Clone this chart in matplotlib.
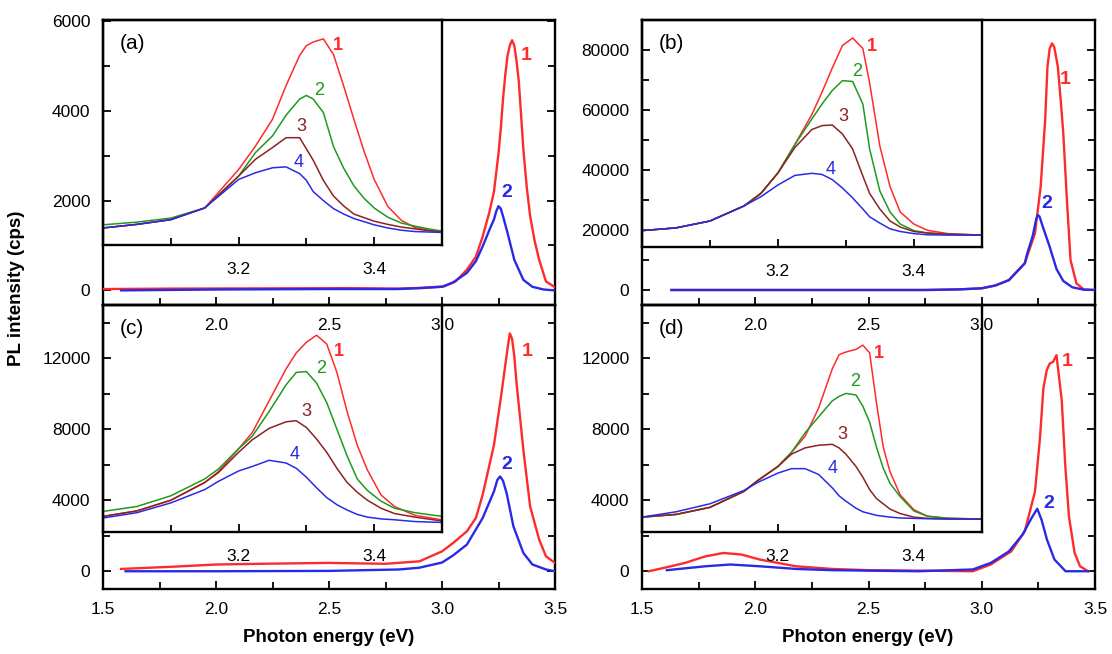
import matplotlib
matplotlib.use("Agg")
import matplotlib.pyplot as plt
from matplotlib.ticker import MultipleLocator, FixedLocator

plt.rcParams['font.family'] = ['Liberation Sans', 'DejaVu Sans']

RED = '#ff2b2b'
GREEN = '#1e9a1e'
BROWN = '#8c2323'
BLUE = '#2a2ae6'

# ---- main spectra (photon energy in eV, PL intensity in cps) ----
a_red_x = [1.50, 1.80, 2.20, 2.60, 2.81, 2.90, 3.01, 3.06, 3.11, 3.15, 3.18, 3.21, 3.23,
           3.25, 3.26, 3.27, 3.28, 3.29, 3.30, 3.31, 3.32, 3.33, 3.34, 3.35, 3.36, 3.375,
           3.39, 3.41, 3.43, 3.46, 3.50]
a_red_y = [30, 40, 45, 50, 40, 55, 90, 200, 460, 750, 1200, 1750, 2200,
           3050, 3600, 4260, 4800, 5230, 5450, 5570, 5450, 5100, 4640, 3900, 3140, 2300,
           1650, 1100, 680, 200, 70]
a_blue_x = [1.58, 2.00, 2.50, 2.80, 2.90, 3.00, 3.05, 3.11, 3.15, 3.18, 3.21, 3.23, 3.24,
            3.25, 3.26, 3.27, 3.29, 3.32, 3.36, 3.40, 3.45, 3.50]
a_blue_y = [0, 20, 30, 30, 50, 80, 180, 390, 650, 980, 1350, 1580, 1760,
            1875, 1820, 1650, 1280, 680, 235, 80, 20, 0]

b_red_x = [1.63, 2.00, 2.50, 2.75, 2.90, 3.00, 3.06, 3.12, 3.19, 3.235, 3.26, 3.28, 3.29,
           3.30, 3.31, 3.32, 3.336, 3.35, 3.36, 3.376, 3.392, 3.418, 3.45, 3.50]
b_red_y = [0, 0, 0, 0, 200, 570, 1500, 3300, 8900, 18900, 34400, 56700, 74400,
           80500, 82200, 81000, 74400, 62000, 52200, 30000, 10000, 2200, 200, 0]
b_blue_x = [1.63, 2.00, 2.50, 2.75, 2.90, 3.00, 3.06, 3.12, 3.19, 3.20, 3.225, 3.24, 3.247,
            3.255, 3.27, 3.30, 3.33, 3.36, 3.40, 3.45, 3.50]
b_blue_y = [0, 0, 0, 0, 200, 570, 1500, 3300, 8900, 12000, 18000, 23500, 25000,
            24500, 21000, 14400, 7000, 3000, 900, 100, 0]

c_red_x = [1.58, 1.80, 2.00, 2.25, 2.50, 2.75, 2.90, 3.00, 3.05, 3.11, 3.15, 3.18, 3.23,
           3.26, 3.29, 3.30, 3.31, 3.32, 3.33, 3.36, 3.39, 3.43, 3.46, 3.50]
c_red_y = [130, 250, 380, 430, 470, 420, 560, 1120, 1600, 2250, 3000, 4310, 7120,
           9740, 12550, 13400, 13100, 12100, 10580, 6840, 3650, 1780, 840, 470]
c_blue_x = [1.60, 2.00, 2.50, 2.81, 2.90, 3.00, 3.05, 3.11, 3.18, 3.23, 3.245, 3.257,
            3.27, 3.286, 3.316, 3.36, 3.40, 3.46, 3.50]
c_blue_y = [0, 0, 20, 100, 200, 490, 900, 1500, 3000, 4500, 5150, 5340,
            5100, 4400, 2530, 1030, 380, 100, 0]

d_red_x = [1.53, 1.60, 1.69, 1.78, 1.86, 1.94, 2.02, 2.18, 2.34, 2.50, 2.75, 2.96, 3.04,
           3.13, 3.19, 3.235, 3.257, 3.272, 3.287, 3.30, 3.315, 3.33, 3.353, 3.369,
           3.385, 3.41, 3.434, 3.47]
d_red_y = [0, 200, 470, 840, 1030, 940, 660, 280, 130, 60, 30, 0, 380,
           1120, 2250, 4490, 7490, 10300, 11330, 11700, 11800, 12170, 9650, 5900,
           3090, 1030, 280, 0]
d_blue_x = [1.61, 1.78, 1.89, 2.02, 2.18, 2.34, 2.72, 2.96, 3.04, 3.12, 3.18, 3.22,
            3.245, 3.264, 3.288, 3.321, 3.37, 3.47]
d_blue_y = [60, 280, 380, 280, 130, 60, 0, 100, 470, 1120, 2060, 3000,
            3520, 2900, 1780, 660, 0, 0]

# ---- inset spectra (values read against the main intensity scale) ----
a_in_x = [3.00, 3.05, 3.10, 3.15, 3.20, 3.225, 3.25, 3.27, 3.29, 3.30, 3.31, 3.325,
          3.34, 3.355, 3.37, 3.385, 3.40, 3.42, 3.44, 3.46, 3.48, 3.50]
a_in_1 = [1390, 1470, 1575, 1835, 2690, 3215, 3810, 4560, 5230, 5450, 5530, 5600,
          5250, 4550, 3810, 3100, 2470, 1870, 1560, 1400, 1340, 1300]
a_in_2 = [1460, 1520, 1610, 1835, 2545, 3070, 3440, 3900, 4260, 4340, 4260, 3960,
          3200, 2720, 2330, 2050, 1835, 1630, 1500, 1430, 1370, 1320]
a_in_3 = [1390, 1470, 1575, 1835, 2545, 2920, 3180, 3400, 3400, 3150, 2900, 2450,
          2100, 1880, 1700, 1620, 1540, 1470, 1410, 1370, 1330, 1300]
a_in_4 = [1390, 1470, 1575, 1835, 2470, 2620, 2730, 2750, 2600, 2450, 2200, 2000,
          1820, 1700, 1600, 1530, 1460, 1390, 1340, 1310, 1300, 1290]

b_in_x = [3.00, 3.05, 3.10, 3.15, 3.175, 3.20, 3.225, 3.25, 3.265, 3.28, 3.295, 3.31,
          3.325, 3.335, 3.35, 3.365, 3.38, 3.40, 3.42, 3.45, 3.50]
b_in_1 = [19800, 20700, 23000, 28000, 32200, 39000, 48500, 58500, 66000, 74000, 81500, 84000,
          80500, 69000, 48000, 34500, 26000, 22000, 19900, 18800, 18300]
b_in_2 = [19800, 20700, 23000, 28000, 32200, 39000, 48500, 57000, 62000, 66500, 69800, 69500,
          62000, 47000, 33000, 26000, 22000, 19800, 19000, 18600, 18300]
b_in_3 = [19800, 20700, 23000, 28000, 32200, 39000, 47500, 53500, 54800, 55000, 52000, 47000,
          38000, 32200, 27000, 23000, 21000, 19500, 19000, 18600, 18300]
b_in_4 = [19800, 20700, 23000, 28000, 31100, 35000, 38200, 38900, 38500, 36800, 34000, 30700,
          27000, 24400, 22300, 20400, 19500, 18800, 18400, 18300, 18300]

c_in_x = [3.00, 3.05, 3.10, 3.15, 3.17, 3.20, 3.22, 3.245, 3.27, 3.285, 3.30, 3.315,
          3.33, 3.345, 3.36, 3.375, 3.39, 3.41, 3.43, 3.46, 3.50]
c_in_1 = [3090, 3400, 4000, 5000, 5600, 6900, 7800, 9600, 11400, 12300, 12900, 13300,
          12800, 11200, 9000, 7100, 5700, 4300, 3650, 3150, 2900]
c_in_2 = [3370, 3650, 4250, 5200, 5750, 6900, 7600, 9000, 10500, 11200, 11250, 10600,
          9500, 8000, 6500, 5200, 4550, 3950, 3550, 3300, 3090]
c_in_3 = [3090, 3400, 4000, 5000, 5550, 6700, 7400, 8050, 8420, 8480, 8100, 7450,
          6700, 5800, 5000, 4450, 4000, 3550, 3250, 3050, 2830]
c_in_4 = [3000, 3300, 3850, 4600, 5060, 5650, 5900, 6250, 6100, 5800, 5300, 4700,
          4150, 3750, 3450, 3200, 3050, 2950, 2900, 2800, 2750]

d_in_x = [3.00, 3.05, 3.10, 3.15, 3.17, 3.20, 3.22, 3.24, 3.26, 3.28, 3.29, 3.30,
          3.315, 3.325, 3.335, 3.345, 3.355, 3.365, 3.38, 3.40, 3.42, 3.45, 3.50]
d_in_1 = [3050, 3200, 3600, 4500, 5100, 5900, 6700, 7600, 9200, 11400, 12200, 12350,
          12500, 12740, 12300, 9500, 7000, 5600, 4300, 3470, 3100, 2980, 2940]
d_in_2 = [3050, 3200, 3600, 4500, 5100, 5900, 6700, 7800, 8700, 9600, 9850, 10020,
          9930, 9300, 8400, 7000, 5800, 4950, 4200, 3400, 3100, 2990, 2940]
d_in_3 = [3050, 3200, 3600, 4500, 5100, 5900, 6600, 6950, 7100, 7150, 6950, 6600,
          5900, 5300, 4600, 4100, 3800, 3500, 3250, 3050, 2980, 2940, 2940]
d_in_4 = [3050, 3350, 3800, 4550, 5000, 5530, 5780, 5780, 5450, 4700, 4250, 3950,
          3550, 3350, 3250, 3150, 3100, 3050, 3000, 2980, 2960, 2950, 2940]

# curve number positions: (x, y) in data units, main then inset
a_main_lbl = [(3.372, 5230), (3.286, 2180)]
a_in_lbl = [(3.346, 5455), (3.319, 4450), (3.292, 3660), (3.288, 2840)]
b_main_lbl = [(3.369, 70000), (3.288, 28900)]
b_in_lbl = [(3.338, 81100), (3.316, 72800), (3.297, 57800), (3.278, 40000)]
c_main_lbl = [(3.375, 12360), (3.286, 5990)]
c_in_lbl = [(3.348, 12360), (3.321, 11430), (3.300, 8990), (3.282, 6560)]
d_main_lbl = [(3.377, 11800), (3.297, 3840)]
d_in_lbl = [(3.349, 12270), (3.314, 10670), (3.295, 7680), (3.281, 5810)]

IN_COLORS = [RED, GREEN, BROWN, BLUE]


def draw_panel(ax, tag, main_curves, main_lbl, in_x, in_curves, in_lbl,
               ylim, y_major, y_minor, in_bottom, bottom_row):
    ax.set_facecolor('none')
    (rx, ry), (bx, by) = main_curves
    ax.plot(rx, ry, color=RED, lw=1.7, zorder=3)
    ax.plot(bx, by, color=BLUE, lw=1.7, zorder=4)
    ax.set_xlim(1.5, 3.5)
    ax.set_ylim(*ylim)

    if bottom_row:
        ax.xaxis.set_major_locator(FixedLocator([1.5, 2.0, 2.5, 3.0, 3.5]))
    else:
        ax.xaxis.set_major_locator(FixedLocator([2.0, 2.5, 3.0]))
    ax.xaxis.set_minor_locator(FixedLocator([1.75, 2.25, 2.75, 3.25]))
    ax.xaxis.set_major_formatter(plt.FormatStrFormatter('%.1f'))
    ax.yaxis.set_major_locator(MultipleLocator(y_major))
    ax.yaxis.set_minor_locator(MultipleLocator(y_minor))
    ax.tick_params(which='both', direction='in', right=True, top=False,
                   labelsize=12.5, width=1.3)
    ax.tick_params(which='major', length=6, pad=9)
    ax.tick_params(which='minor', length=5)
    for s in ax.spines.values():
        s.set_linewidth(1.7)

    for (lx, ly), txt, col in zip(main_lbl, ['1', '2'], [RED, BLUE]):
        ax.text(lx, ly, txt, color=col, fontsize=14, fontweight='bold',
                ha='center', va='center')

    # inset in the upper-left corner, spanning 1.5 - 3.0 eV of the main axes
    ins = ax.inset_axes([1.5, in_bottom, 1.5, ylim[1] - in_bottom],
                        transform=ax.transData)
    ins.set_facecolor('none')
    for yv, col in zip(in_curves, IN_COLORS):
        ins.plot(in_x, yv, color=col, lw=1.1)
    ins.set_xlim(3.0, 3.5)
    ins.set_ylim(in_bottom, ylim[1])
    ins.xaxis.set_major_locator(FixedLocator([3.2, 3.4]))
    ins.xaxis.set_minor_locator(FixedLocator([3.1, 3.3]))
    ins.xaxis.set_major_formatter(plt.FormatStrFormatter('%.1f'))
    ins.set_yticks([])
    ins.tick_params(which='both', direction='in', labelsize=12.5, width=1.3)
    ins.tick_params(which='major', length=6, pad=12)
    ins.tick_params(which='minor', length=5)
    for s in ins.spines.values():
        s.set_linewidth(1.7)
    for (lx, ly), txt, col in zip(in_lbl, ['1', '2', '3', '4'], IN_COLORS):
        ins.text(lx, ly, txt, color=col, fontsize=13,
                 fontweight='bold' if txt == '1' else 'normal',
                 ha='center', va='center')
    ins.annotate(tag, xy=(0, 1), xycoords='axes fraction', xytext=(21, -17),
                 textcoords='offset points', fontsize=15, ha='center', va='center')


fig = plt.figure(figsize=(11.12, 6.54), dpi=100)
W, H = 1112, 654
ax_a = fig.add_axes([103 / W, 1 - 305 / H, 452 / W, 285 / H])
ax_b = fig.add_axes([642 / W, 1 - 305 / H, 453 / W, 285 / H])
ax_c = fig.add_axes([103 / W, 1 - 589 / H, 452 / W, 284 / H])
ax_d = fig.add_axes([642 / W, 1 - 589 / H, 453 / W, 284 / H])

draw_panel(ax_a, '(a)', [(a_red_x, a_red_y), (a_blue_x, a_blue_y)], a_main_lbl,
           a_in_x, [a_in_1, a_in_2, a_in_3, a_in_4], a_in_lbl,
           (-325, 6020), 2000, 1000, 1000, False)
draw_panel(ax_b, '(b)', [(b_red_x, b_red_y), (b_blue_x, b_blue_y)], b_main_lbl,
           b_in_x, [b_in_1, b_in_2, b_in_3, b_in_4], b_in_lbl,
           (-5000, 90000), 20000, 10000, 14300, False)
draw_panel(ax_c, '(c)', [(c_red_x, c_red_y), (c_blue_x, c_blue_y)], c_main_lbl,
           c_in_x, [c_in_1, c_in_2, c_in_3, c_in_4], c_in_lbl,
           (-1000, 15000), 4000, 2000, 2190, True)
draw_panel(ax_d, '(d)', [(d_red_x, d_red_y), (d_blue_x, d_blue_y)], d_main_lbl,
           d_in_x, [d_in_1, d_in_2, d_in_3, d_in_4], d_in_lbl,
           (-1000, 15000), 4000, 2000, 2190, True)

fig.text(17 / W, 1 - 288 / H, 'PL intensity (cps)', rotation=90, fontsize=13.5,
         fontweight='bold', ha='center', va='center')
fig.text(329 / W, 1 - 638 / H, 'Photon energy (eV)', fontsize=13.5,
         fontweight='bold', ha='center', va='center')
fig.text(868 / W, 1 - 638 / H, 'Photon energy (eV)', fontsize=13.5,
         fontweight='bold', ha='center', va='center')

fig.savefig('out.png', dpi=100)
